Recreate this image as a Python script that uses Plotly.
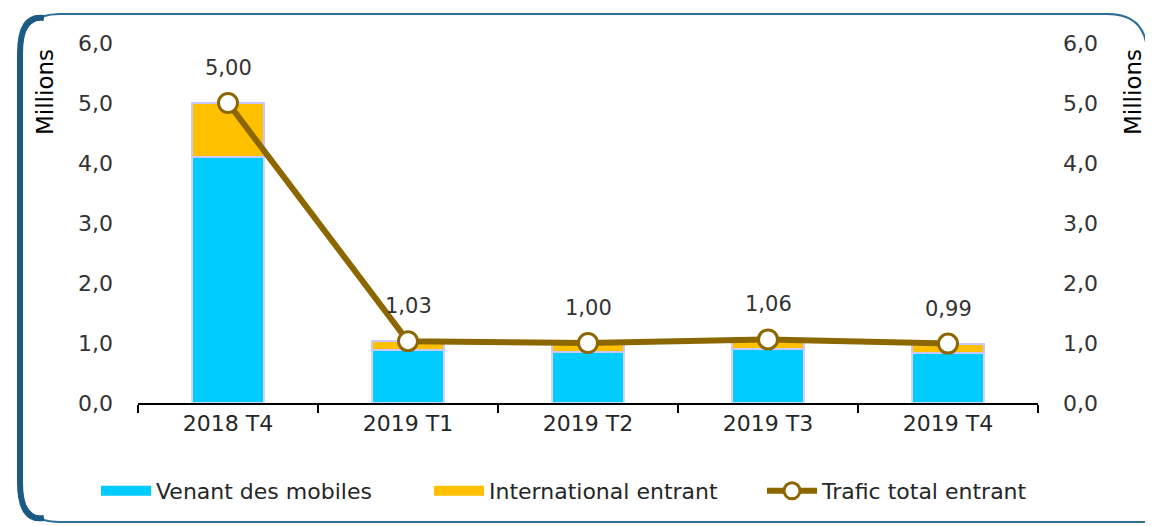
import plotly.graph_objects as go

categories = ["2018 T4", "2019 T1", "2019 T2", "2019 T3", "2019 T4"]
mobiles = [4.10, 0.88, 0.85, 0.90, 0.84]
international = [0.90, 0.15, 0.15, 0.16, 0.15]
total = [5.00, 1.03, 1.00, 1.06, 0.99]
yticks = [0, 1, 2, 3, 4, 5, 6]

FONT = "DejaVu Sans"
OFF = 8  # page body margin
W, H = 1153 - OFF, 526 - OFF
L, T = 138 - OFF, 43 - OFF
pw, ph = 900, 360
R, B = W - L - pw, H - T - ph

def px(x):
    return (x - OFF - L) / pw

def py(y):
    return (H - B - (y - OFF)) / ph

BLUE, ORANGE, BROWN = "#00CCFF", "#FFC000", "#8C6700"

fig = go.Figure()
fig.add_trace(go.Bar(
    x=categories, y=mobiles, name="Venant des mobiles", showlegend=False,
    marker=dict(color=BLUE, line=dict(color="#D6D6FF", width=1.5)),
    width=0.4,
))
fig.add_trace(go.Bar(
    x=categories, y=international, name="International entrant", showlegend=False,
    marker=dict(color=ORANGE, line=dict(color="#C8C8FF", width=2)),
    width=0.4,
))
fig.add_trace(go.Scatter(
    x=categories, y=total, name="Trafic total entrant", showlegend=False,
    mode="lines+markers",
    line=dict(color=BROWN, width=6),
    marker=dict(size=19, color="white", line=dict(color=BROWN, width=3)),
))
# legend entries
fig.add_trace(go.Scatter(x=[None], y=[None], mode="lines", name="Venant des mobiles",
                         line=dict(color=BLUE, width=12)))
fig.add_trace(go.Scatter(x=[None], y=[None], mode="lines", name="International entrant",
                         line=dict(color=ORANGE, width=12)))
fig.add_trace(go.Scatter(x=[None], y=[None], mode="lines+markers", name="Trafic total entrant",
                         line=dict(color=BROWN, width=6),
                         marker=dict(size=17, color="white", line=dict(color=BROWN, width=3))))

for c, v in zip(categories, total):
    fig.add_annotation(x=c, y=v, text=f"{v:.2f}".replace(".", ","),
                       showarrow=False, yshift=35,
                       font=dict(family=FONT, size=21, color="#333333"))

for xx in (px(45), px(1133)):
    fig.add_annotation(x=xx, y=py(92), xref="paper", yref="paper", text="Millions",
                       showarrow=False, textangle=-90, xanchor="center", yanchor="middle",
                       font=dict(family=FONT, size=23, color="black"))

# rounded frame
r_x, r_y = 40 / pw, 40 / ph
x0, x1 = px(20), px(1147)
y0, y1 = py(522), py(14)
path = (f"M {x0+r_x},{y1} L {x1-r_x},{y1} Q {x1},{y1} {x1},{y1-r_y} "
        f"L {x1},{y0} L {x0+r_x},{y0} Q {x0},{y0} {x0},{y0+r_y} "
        f"L {x0},{y1-r_y} Q {x0},{y1} {x0+r_x},{y1} Z")
fig.add_shape(type="path", path=path, xref="paper", yref="paper",
              line=dict(color="#2E6E98", width=2), layer="below")
lpath = (f"M {x0+r_x*0.6},{y1-r_y*0.1} Q {x0},{y1} {x0},{y1-r_y} "
         f"L {x0},{y0+r_y} Q {x0},{y0} {x0+r_x*0.6},{y0+r_y*0.1}")
fig.add_shape(type="path", path=lpath, xref="paper", yref="paper",
              line=dict(color="#1B5A82", width=6), layer="below")

fig.update_layout(
    width=W, height=H,
    margin=dict(l=L, r=R, t=T, b=B, autoexpand=False),
    paper_bgcolor="white", plot_bgcolor="white",
    barmode="stack",
    separators=", ",
    font=dict(family=FONT, size=18, color="#333333"),
    showlegend=True,
    legend=dict(orientation="h", x=px(96), xanchor="left", y=py(491), yanchor="middle",
                bgcolor="rgba(0,0,0,0)",
                font=dict(family=FONT, size=22, color="#262626"),
                traceorder="normal", itemwidth=50, entrywidth=268, entrywidthmode="pixels"),
    xaxis=dict(
        showline=True, linecolor="black", linewidth=2,
        ticks="outside", ticklen=8, tickwidth=2, tickcolor="black",
        tickson="boundaries",
        tickfont=dict(family=FONT, size=22, color="#262626"),
        showgrid=False,
    ),
    yaxis=dict(
        range=[0, 6], tickvals=yticks, tickformat=".1f",
        showgrid=False, zeroline=False, showline=False,
        tickfont=dict(family=FONT, size=22, color="#333333"),
        ticklabelstandoff=24,
    ),
    yaxis2=dict(
        range=[0, 6], tickvals=yticks, tickformat=".1f",
        overlaying="y", side="right",
        showgrid=False, zeroline=False, showline=False,
        tickfont=dict(family=FONT, size=22, color="#333333"),
        ticklabelstandoff=24,
    ),
)
# right axis carrier trace
fig.add_trace(go.Scatter(x=categories, y=total, yaxis="y2", mode="lines",
                         line=dict(width=0), showlegend=False, hoverinfo="skip"))

fig.write_html("out.html")
